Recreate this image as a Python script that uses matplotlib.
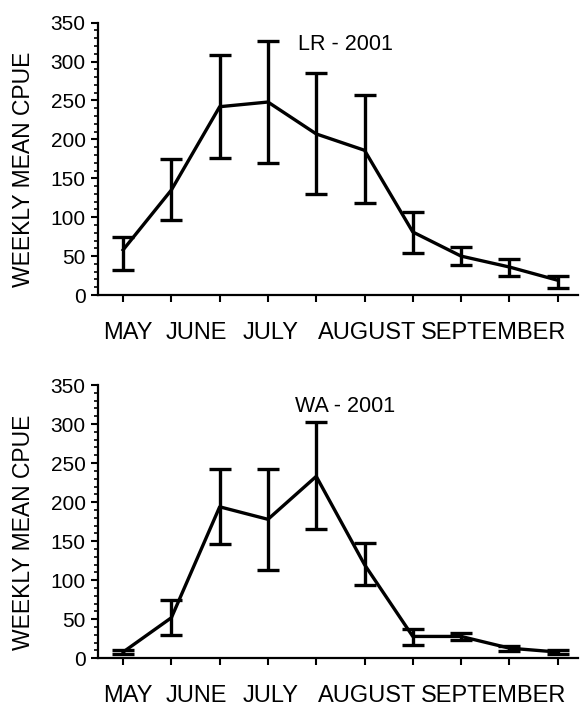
import matplotlib
matplotlib.use("Agg")
import matplotlib.pyplot as plt
from matplotlib.ticker import MultipleLocator
import numpy as np

weeks = list(range(10))
months = ["MAY", "JUNE", "JULY", "AUGUST", "SEPTEMBER"]
month_pos = [0.1, 1.51, 3.06, 5.05, 7.68]

# LR - 2001
lr_mean = [58, 135, 242, 248, 207, 186, 81, 50, 36, 19]
lr_low = [32, 96, 176, 170, 130, 118, 54, 38, 24, 9]
lr_high = [75, 175, 308, 326, 285, 257, 107, 62, 46, 25]

# WA - 2001
wa_mean = [8, 52, 194, 178, 233, 120, 28, 28, 13, 8]
wa_low = [5, 30, 147, 113, 165, 94, 17, 23, 9, 6]
wa_high = [11, 75, 243, 242, 303, 148, 37, 32, 16, 10]

plt.rcParams['font.family'] = ['Liberation Sans', 'DejaVu Sans']

fig = plt.figure(figsize=(5.82, 7.08), dpi=100)
ax_top = fig.add_axes([0.1684, 0.5833, 0.8246, 0.3847])
ax_bot = fig.add_axes([0.1684, 0.0702, 0.8246, 0.3860])

def draw(ax, mean, low, high, title):
    mean = np.asarray(mean)
    yerr = [mean - np.asarray(low), np.asarray(high) - mean]
    ax.errorbar(weeks, mean, yerr=yerr, color='black', lw=2.4,
                elinewidth=2.4, capsize=8, capthick=2.4, clip_on=False)
    ax.set_xlim(-0.52, 9.42)
    ax.set_ylim(0, 350)
    ax.spines['top'].set_visible(False)
    ax.spines['right'].set_visible(False)
    for s in ['left', 'bottom']:
        ax.spines[s].set_linewidth(1.6)
    ax.set_xticks(weeks)
    ax.set_xticklabels([])
    ax.yaxis.set_major_locator(MultipleLocator(50))
    ax.yaxis.set_minor_locator(MultipleLocator(10))
    ax.tick_params(axis='y', which='major', length=5, width=1.5, labelsize=15, pad=4)
    ax.tick_params(axis='y', which='minor', length=3, width=1.2)
    ax.tick_params(axis='x', which='major', length=5, width=1.5)
    ax.set_ylabel('WEEKLY MEAN CPUE', fontsize=16.5, va='center')
    ax.yaxis.set_label_coords(-0.156, 0.46)
    for m, p in zip(months, month_pos):
        ax.annotate(m, xy=(p, 0), xycoords=('data', 'axes fraction'),
                    xytext=(0, -27), textcoords='offset points',
                    ha='center', va='center', fontsize=17, annotation_clip=False)
    ax.text(4.6, 322, title, ha='center', va='center', fontsize=15.5)

draw(ax_top, lr_mean, lr_low, lr_high, 'LR - 2001')
draw(ax_bot, wa_mean, wa_low, wa_high, 'WA - 2001')

fig.savefig('out.png', dpi=100)
